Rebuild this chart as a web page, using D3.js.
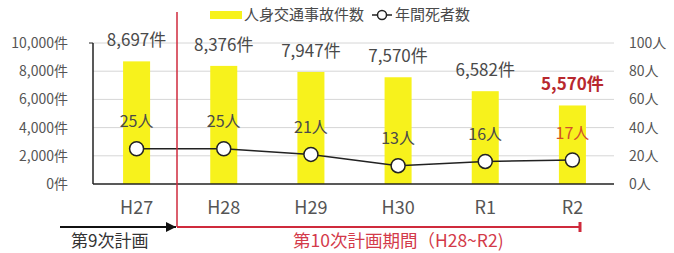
<!DOCTYPE html>
<html><head><meta charset="utf-8">
<script src="https://cdn.jsdelivr.net/npm/d3@7"></script>
<style>body{margin:0;background:#fff}svg{display:block}text{font-family:"Noto Sans CJK JP","Noto Sans",sans-serif}</style>
</head><body>
<svg id="c" width="674" height="253"></svg>
<script>
const categories = ["H27","H28","H29","H30","R1","R2"];
const accidents = [8697,8376,7947,7570,6582,5570];
const deaths = [25,25,21,13,16,17];
const leftTicks = [0,2000,4000,6000,8000,10000];
const rightTicks = [0,20,40,60,80,100];
const legendLabels = ["人身交通事故件数","年間死者数"];
const planLabels = ["第9次計画","第10次計画期間（H28~R2)"];

const svg = d3.select("#c");
const x = d3.scaleBand().domain(categories).range([93,616]).paddingInner(0.69).paddingOuter(0.345);
const yL = d3.scaleLinear().domain([0,10000]).range([184,43]);
const yR = d3.scaleLinear().domain([0,100]).range([184,43]);
const grey = "#4a4a4a";

// gridlines
svg.append("g").selectAll("line").data(leftTicks.slice(1)).join("line")
  .attr("x1",93).attr("x2",614).attr("y1",d=>yL(d)).attr("y2",d=>yL(d))
  .attr("stroke","#d6d6d6").attr("stroke-width",1);

// left axis tick labels
svg.append("g").selectAll("text").data(leftTicks).join("text")
  .attr("x",68).attr("y",d=>yL(d)).attr("dy","0.35em").attr("text-anchor","end")
  .attr("font-size",14).attr("fill","#555")
  .text(d=>d3.format(",")(d)+"件");
// right axis tick labels
svg.append("g").selectAll("text").data(rightTicks).join("text")
  .attr("x",629).attr("y",d=>yR(d)).attr("dy","0.35em").attr("text-anchor","start")
  .attr("font-size",14).attr("fill","#555")
  .text(d=>d+"人");

// bars
svg.append("g").selectAll("rect").data(accidents).join("rect")
  .attr("x",(d,i)=>x(categories[i])).attr("width",x.bandwidth())
  .attr("y",d=>yL(d)).attr("height",d=>yL(0)-yL(d))
  .attr("fill","#f7f21c");

// axes lines
svg.append("line").attr("x1",93).attr("x2",93).attr("y1",43).attr("y2",184).attr("stroke","#222").attr("stroke-width",1.5);
svg.append("line").attr("x1",89).attr("x2",93).attr("y1",43).attr("y2",43).attr("stroke","#222").attr("stroke-width",1);
svg.append("line").attr("x1",93).attr("x2",614).attr("y1",184).attr("y2",184).attr("stroke","#222").attr("stroke-width",1.5);

// x labels
svg.append("g").selectAll("text").data(categories).join("text")
  .attr("x",d=>x(d)+x.bandwidth()/2).attr("y",208).attr("dy","0.35em").attr("text-anchor","middle")
  .attr("font-size",18).attr("fill","#555").text(d=>d);

// bar value labels
svg.append("g").selectAll("text").data(accidents).join("text")
  .attr("x",(d,i)=>x(categories[i])+x.bandwidth()/2).attr("y",d=>yL(d)-21).attr("dy","0.35em")
  .attr("text-anchor","middle").attr("font-size",17)
  .attr("font-weight",(d,i)=>i===accidents.length-1?"bold":"normal")
  .attr("fill",(d,i)=>i===accidents.length-1?"#b8282e":grey)
  .text(d=>d3.format(",")(d)+"件");

// death line
const cx = (i)=>x(categories[i])+x.bandwidth()/2;
svg.append("path").datum(deaths)
  .attr("d",d3.line().x((d,i)=>cx(i)).y(d=>yR(d)))
  .attr("fill","none").attr("stroke","#222").attr("stroke-width",1.5);
svg.append("g").selectAll("circle").data(deaths).join("circle")
  .attr("cx",(d,i)=>cx(i)).attr("cy",d=>yR(d)).attr("r",7)
  .attr("fill","#fff").attr("stroke","#222").attr("stroke-width",1.5);
svg.append("g").selectAll("text").data(deaths).join("text")
  .attr("x",(d,i)=>cx(i)).attr("y",d=>yR(d)-27).attr("dy","0.35em").attr("text-anchor","middle")
  .attr("font-size",16).attr("fill",(d,i)=>i===deaths.length-1?"#d2502a":grey)
  .text(d=>d+"人");

// legend
svg.append("rect").attr("x",210).attr("y",11).attr("width",32).attr("height",8).attr("fill","#f7f21c");
svg.append("text").attr("x",244).attr("y",15).attr("dy","0.35em").attr("font-size",15).attr("fill",grey).text(legendLabels[0]);
svg.append("line").attr("x1",372).attr("x2",392).attr("y1",15).attr("y2",15).attr("stroke","#222").attr("stroke-width",1.5);
svg.append("circle").attr("cx",382).attr("cy",15).attr("r",4.5).attr("fill","#fff").attr("stroke","#222").attr("stroke-width",1.5);
svg.append("text").attr("x",395).attr("y",15).attr("dy","0.35em").attr("font-size",15).attr("fill",grey).text(legendLabels[1]);

// plan period markers
const red = "#cf2a3c";
svg.append("line").attr("x1",177).attr("x2",177).attr("y1",12).attr("y2",227).attr("stroke",red).attr("stroke-width",1.5);
svg.append("line").attr("x1",177).attr("x2",580).attr("y1",227).attr("y2",227).attr("stroke",red).attr("stroke-width",2);
svg.append("line").attr("x1",580).attr("x2",580).attr("y1",222).attr("y2",232).attr("stroke",red).attr("stroke-width",3);
svg.append("defs").append("marker").attr("id","ah").attr("viewBox","0 0 10 10").attr("refX",10).attr("refY",5)
  .attr("markerWidth",5).attr("markerHeight",5).attr("orient","auto")
  .append("path").attr("d","M0,0L10,5L0,10z").attr("fill","#111");
svg.append("line").attr("x1",60).attr("x2",176).attr("y1",227).attr("y2",227).attr("stroke","#111").attr("stroke-width",2).attr("marker-end","url(#ah)");
svg.append("text").attr("x",71).attr("y",241).attr("dy","0.35em").attr("font-size",17).attr("fill","#333").text(planLabels[0]);
svg.append("text").attr("x",293).attr("y",241).attr("dy","0.35em").attr("font-size",17.5).attr("fill","#d33a4a").text(planLabels[1]);
</script>
</body></html>
